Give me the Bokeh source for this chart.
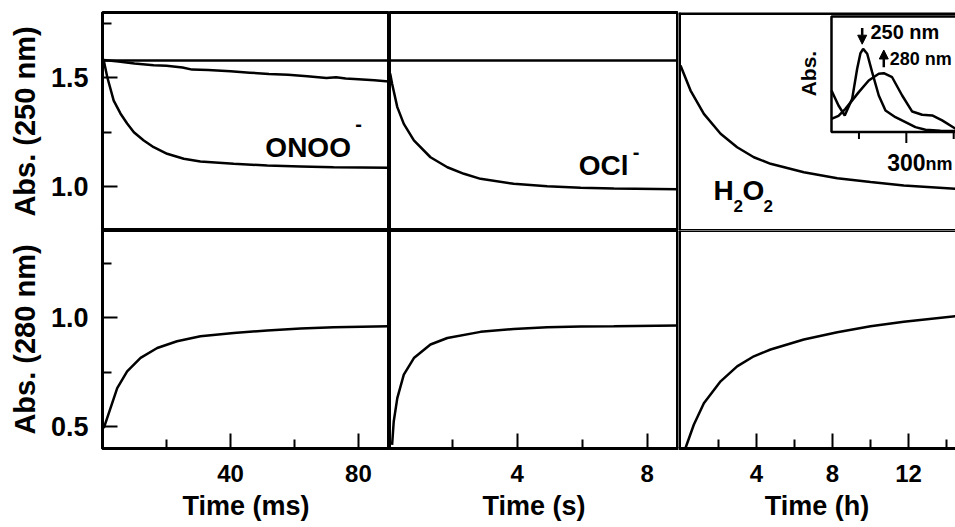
from bokeh.plotting import figure
from bokeh.layouts import gridplot
from bokeh.models import (Range1d, LinearAxis, FixedTicker, NumeralTickFormatter,
                          Span, Arrow, NormalHead)
from bokeh.core.properties import value
from bokeh.embed import file_html
from bokeh.resources import INLINE

FONT = "Liberation Sans"

# ---------------- data ----------------
# ONOO- (time in ms)
onoo_t250 = [0.4, 1.5, 3.5, 5.6, 7.7, 9.8, 12.9, 16.0, 20.2, 25.4, 30.6, 41.0, 51.5, 61.9, 72.2, 89.5]
onoo_a250 = [1.580, 1.503, 1.396, 1.337, 1.291, 1.251, 1.213, 1.182, 1.152, 1.129, 1.117, 1.106, 1.098, 1.094, 1.090, 1.088]
ctrl_t250 = [0.4, 5, 10, 16, 20, 25, 28, 33, 40, 46, 52, 58, 64, 70, 73, 76, 80, 85, 89.5]
ctrl_a250 = [1.582, 1.575, 1.566, 1.558, 1.556, 1.548, 1.538, 1.536, 1.530, 1.524, 1.518, 1.514, 1.508, 1.499, 1.503, 1.497, 1.494, 1.489, 1.484]
base_ms = [0.0, 89.7]
base_ms_a = [1.58, 1.58]
onoo_t280 = [0.4, 2.5, 4.6, 7.7, 11.9, 17.1, 23.3, 30.6, 41.0, 51.5, 61.9, 72.3, 89.5]
onoo_a280 = [0.493, 0.585, 0.677, 0.754, 0.816, 0.861, 0.892, 0.915, 0.930, 0.941, 0.950, 0.956, 0.961]

# OCl- (time in s)
ocl_t250 = [0.09, 0.15, 0.31, 0.51, 0.82, 1.33, 1.85, 2.36, 2.87, 3.89, 4.92, 5.95, 6.97, 8.96]
ocl_a250 = [1.52, 1.473, 1.366, 1.289, 1.213, 1.136, 1.090, 1.060, 1.037, 1.014, 1.003, 0.996, 0.993, 0.989]
base_s = [0.07, 8.96]
base_s_a = [1.58, 1.58]
ocl_t280 = [0.15, 0.20, 0.31, 0.51, 0.82, 1.33, 1.85, 2.87, 3.89, 4.92, 5.95, 6.97, 8.96]
ocl_a280 = [0.417, 0.524, 0.631, 0.739, 0.815, 0.877, 0.907, 0.935, 0.948, 0.956, 0.960, 0.961, 0.964]

# H2O2 (time in h)
h2o2_t250 = [0.0, 0.53, 1.23, 2.11, 2.98, 3.86, 4.74, 6.49, 8.25, 10.0, 11.75, 14.47]
h2o2_a250 = [1.557, 1.442, 1.335, 1.244, 1.182, 1.136, 1.106, 1.067, 1.040, 1.022, 1.006, 0.991]
h2o2_t280 = [0.26, 0.70, 1.23, 2.11, 2.98, 3.86, 4.74, 6.49, 8.25, 10.0, 11.75, 14.47]
h2o2_a280 = [0.401, 0.509, 0.608, 0.708, 0.777, 0.823, 0.854, 0.900, 0.933, 0.961, 0.981, 1.007]

# inset spectra (wavelength nm, relative absorbance)
spec250_nm = [221, 228.4, 235.0, 242.8, 248.1, 251.5, 254.4, 258.7, 263.9, 270.9, 278.0, 288.5, 299.1, 309.6, 320.2, 336, 352]
spec250_abs = [0.359, 0.229, 0.143, 0.287, 0.547, 0.680, 0.720, 0.677, 0.518, 0.316, 0.186, 0.128, 0.085, 0.042, 0.019, 0.010, 0.009]
spec280_nm = [221, 228.4, 235.7, 249.8, 260.3, 270.9, 276.2, 285.0, 295.6, 306.2, 316.7, 327.3, 337.8, 352]
spec280_abs = [0.114, 0.14, 0.20, 0.345, 0.446, 0.504, 0.509, 0.474, 0.316, 0.177, 0.149, 0.143, 0.100, 0.028]
inset_ticks_nm = [250, 300, 350]

# ---------------- helpers ----------------
def make_fig(width, height, xr, yr, left=0, top=0, bottom=0, outline=True):
    p = figure(width=width, height=height, x_range=Range1d(*xr), y_range=Range1d(*yr),
               x_axis_location=None, y_axis_location=None, toolbar_location=None,
               output_backend="svg", min_border=0)
    p.min_border_left = left
    p.min_border_right = 0
    p.min_border_top = top
    p.min_border_bottom = bottom
    p.grid.grid_line_color = None
    p.background_fill_color = "white"
    p.border_fill_color = "white"
    if outline:
        p.outline_line_color = "black"
        p.outline_line_width = 3
        p.outline_line_alpha = 1.0
    else:
        p.outline_line_color = None
    return p


def add_axis(p, place, ticks, minor, label, fmt=None, tick_size=25, label_size=28,
             tick_standoff=14, label_standoff=5):
    ax = LinearAxis(ticker=FixedTicker(ticks=ticks, minor_ticks=minor), axis_label=label)
    if fmt is not None:
        ax.formatter = fmt
    ax.major_tick_in = 15
    ax.major_tick_out = 0
    ax.minor_tick_in = 9
    ax.minor_tick_out = 0
    ax.axis_line_width = 3
    ax.axis_line_color = "black"
    ax.major_tick_line_width = 2
    ax.minor_tick_line_width = 2
    ax.major_tick_line_color = "black"
    ax.minor_tick_line_color = "black"
    ax.major_label_text_font = FONT
    ax.major_label_text_font_size = f"{tick_size}px"
    ax.major_label_text_font_style = "bold"
    ax.major_label_text_color = "black"
    ax.major_label_standoff = tick_standoff
    ax.axis_label_text_font = FONT
    ax.axis_label_text_font_size = f"{label_size}px"
    ax.axis_label_text_font_style = "bold"
    ax.axis_label_text_color = "black"
    ax.axis_label_standoff = label_standoff
    p.add_layout(ax, place)
    return ax


def txt(p, x, y, s, size, align="left", baseline="alphabetic", angle=0.0, **kw):
    off = -round(0.36 * size) if baseline == "alphabetic" else 0
    p.text(x=[x], y=[y], text=[s], text_font=value(FONT), text_font_size=value(f"{size}px"),
           text_font_style="bold", text_color="black", text_align=align,
           text_baseline=baseline, angle=angle, y_offset=off, **kw)


LW = 2.5
TOP_Y = (0.8, 1.8)
BOT_Y = (0.4, 1.4)
X1 = (0.0, 89.7)
X2 = (0.07, 8.96)
X3 = (-0.105, 14.47)

# ---------------- top row ----------------
p1 = make_fig(389, 230, X1, TOP_Y, left=102, top=12)
add_axis(p1, "left", [1.0, 1.5], [1.25, 1.75], "Abs. (250 nm)",
         NumeralTickFormatter(format="0.0"), tick_size=27, label_size=29, label_standoff=7)
p1.line(base_ms, base_ms_a, line_color="black", line_width=LW)
p1.line(ctrl_t250, ctrl_a250, line_color="black", line_width=LW)
p1.line(onoo_t250, onoo_a250, line_color="black", line_width=LW)
txt(p1, 50.9, 1.135, "ONOO", 28)
txt(p1, 79.0, 1.289, "-", 20, baseline="middle")

p2 = make_fig(289, 230, X2, TOP_Y, top=12)
p2.line(base_s, base_s_a, line_color="black", line_width=LW)
p2.line(ocl_t250, ocl_a250, line_color="black", line_width=LW)
txt(p2, 5.89, 1.052, "OCl", 28)
txt(p2, 7.55, 1.159, "-", 20, baseline="middle")

p3 = make_fig(277, 230, X3, TOP_Y, top=12, outline=False)
p3.add_layout(Span(location=TOP_Y[1], dimension="width", line_color="black", line_width=5))
p3.add_layout(Span(location=TOP_Y[0], dimension="width", line_color="black", line_width=3))
p3.add_layout(Span(location=X3[0], dimension="height", line_color="black", line_width=5))
p3.line(h2o2_t250, h2o2_a250, line_color="black", line_width=LW)
txt(p3, 1.737, 0.938, "H", 28)
txt(p3, 2.79, 0.883, "2", 17)
txt(p3, 3.26, 0.938, "O", 28)
txt(p3, 4.37, 0.883, "2", 17)

# inset inside panel 3 (own wavelength / absorbance scales)
p3.extra_x_ranges = {"wl": Range1d(59.5, 351.9)}
p3.extra_y_ranges = {"ia": Range1d(-0.853, 1.0346)}
p3.quad(left=[221], right=[420], bottom=[0], top=[1], fill_color="white",
        line_color="black", line_width=2.5, x_range_name="wl", y_range_name="ia")
p3.line(spec250_nm, spec250_abs, line_color="black", line_width=LW,
        x_range_name="wl", y_range_name="ia")
p3.line(spec280_nm, spec280_abs, line_color="black", line_width=LW,
        x_range_name="wl", y_range_name="ia")
p3.segment(x0=inset_ticks_nm, y0=[0, 0, 0], x1=inset_ticks_nm, y1=[-0.061, -0.095, -0.061],
           line_color="black", line_width=2, x_range_name="wl", y_range_name="ia")
txt(p3, 300, -0.333, "300", 23, align="center", x_range_name="wl", y_range_name="ia")
txt(p3, 320.2, -0.333, "nm", 18, x_range_name="wl", y_range_name="ia")
txt(p3, 196.7, 0.506, "Abs.", 21, align="center", baseline="middle", angle=1.5708,
    x_range_name="wl", y_range_name="ia")
txt(p3, 262.1, 0.807, "250 nm", 20, x_range_name="wl", y_range_name="ia")
txt(p3, 282.5, 0.576, "280 nm", 18, x_range_name="wl", y_range_name="ia")
p3.add_layout(Arrow(end=NormalHead(size=9, fill_color="black", line_color="black"),
                    x_start=253.4, y_start=0.900, x_end=253.4, y_end=0.760,
                    line_color="black", line_width=2.5, x_range_name="wl", y_range_name="ia"))
p3.add_layout(Arrow(end=NormalHead(size=9, fill_color="black", line_color="black"),
                    x_start=276.2, y_start=0.560, x_end=276.2, y_end=0.710,
                    line_color="black", line_width=2.5, x_range_name="wl", y_range_name="ia"))

# ---------------- bottom row ----------------
XT, XL, XTS, XLS = 24, 27, 16, 6
p4 = make_fig(389, 297, X1, BOT_Y, left=102, bottom=79)
add_axis(p4, "left", [0.5, 1.0], [0.75, 1.25], "Abs. (280 nm)",
         NumeralTickFormatter(format="0.0"), tick_size=27, label_size=29, label_standoff=7)
add_axis(p4, "below", [40, 80], [20, 60], "Time (ms)", tick_size=XT, label_size=XL,
         tick_standoff=XTS, label_standoff=XLS)
p4.line(onoo_t280, onoo_a280, line_color="black", line_width=LW)

p5 = make_fig(289, 297, X2, BOT_Y, bottom=79)
add_axis(p5, "below", [4, 8], [2, 6], "Time (s)", tick_size=XT, label_size=XL,
         tick_standoff=XTS, label_standoff=XLS)
p5.line(ocl_t280, ocl_a280, line_color="black", line_width=LW)

p6 = make_fig(277, 297, X3, BOT_Y, bottom=79, outline=False)
add_axis(p6, "below", [4, 8, 12], [2, 6, 10, 14], "Time (h)", tick_size=XT, label_size=XL,
         tick_standoff=XTS, label_standoff=XLS)
p6.add_layout(Span(location=BOT_Y[1], dimension="width", line_color="black", line_width=3))
p6.add_layout(Span(location=X3[0], dimension="height", line_color="black", line_width=5))
p6.line(h2o2_t280, h2o2_a280, line_color="black", line_width=LW)

grid = gridplot([[p1, p2, p3], [p4, p5, p6]], toolbar_location=None)

open("out.html", "w").write(file_html(grid, INLINE))
